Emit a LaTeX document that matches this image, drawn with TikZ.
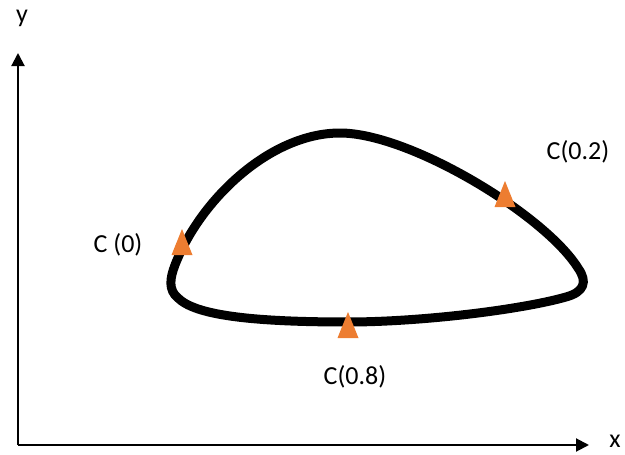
\documentclass[tikz,border=0pt]{standalone}
\usepackage{fontspec}
\setmainfont{Carlito}
\usepackage{tikz}
\usetikzlibrary{arrows.meta}
\definecolor{markorange}{RGB}{237,125,49}

\begin{document}
\begin{tikzpicture}[x=1pt, y=-1pt,
  every node/.style={font=\fontsize{26}{30}\selectfont, inner sep=0pt},
  axis/.style={line width=2pt, -{Triangle[length=13pt, width=13pt]}},
  loop/.style={line width=9pt, line join=round},
  tri/.style={fill=markorange}
]
\useasboundingbox (0,0) rectangle (625,455);
% axes
\coordinate (origin) at (18,445);
\coordinate (ytip) at (18,53);
\coordinate (xtip) at (589,445);
\draw[axis] (origin) -- (ytip);
\draw[axis] (origin) -- (xtip);
\node (ylab) at (22,18) {y};
\node (xlab) at (615,441) {x};
% closed curve
\draw[loop] (340,133) .. controls (410,133) and (545,215) .. (578,268)
  .. controls (588,282) and (584,292) .. (566,297)
  .. controls (520,310) and (420,322) .. (348,322)
  .. controls (250,322) and (195,315) .. (178,298)
  .. controls (168,290) and (170,278) .. (175,265)
  .. controls (200,200) and (270,133) .. cycle;
% markers
\coordinate (c0) at (182,242);
\coordinate (c2) at (505,194);
\coordinate (c8) at (348,325);
\foreach \p in {c0,c2,c8}
  \fill[tri] (\p) ++(0,-13) -- ++(10.5,26) -- ++(-21,0) -- cycle;
\node (c0lab) at (118,245) {C (0)};
\node (c2lab) at (578,152) {C(0.2)};
\node (c8lab) at (355,377) {C(0.8)};
\end{tikzpicture}
\end{document}
